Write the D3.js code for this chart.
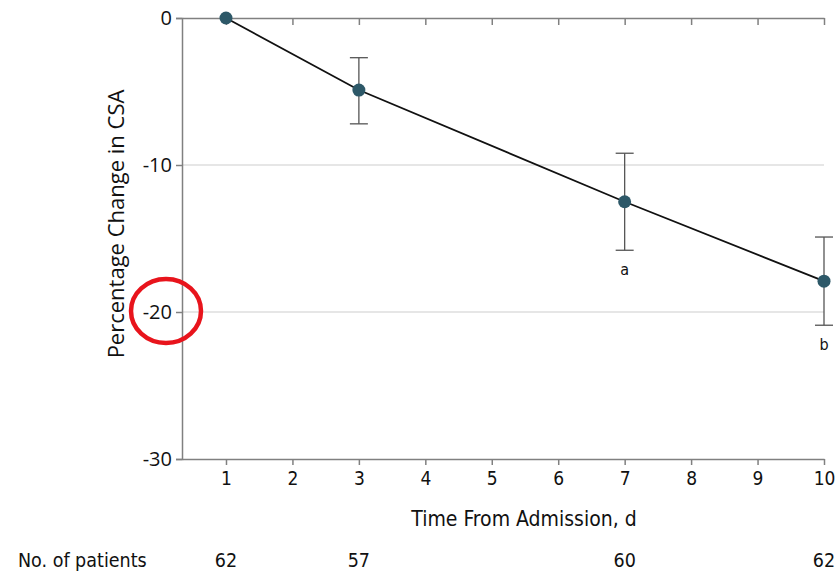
<!DOCTYPE html>
<html>
<head>
<meta charset="utf-8">
<script src="https://cdn.jsdelivr.net/npm/d3@7"></script>
<style>
  body { margin: 0; background: #fff; }
  .narrow { font-family: "Liberation Sans Narrow", "DejaVu Sans Condensed", "Roboto", sans-serif; }
  .open { font-family: "Open Sans", "Noto Sans", sans-serif; }
</style>
</head>
<body>
<svg id="chart" width="839" height="573"></svg>
<script>
// data
var days = [1, 3, 7, 10];
var meanChange = [0, -4.9, -12.5, -17.9];
var upperCI = [0, -2.7, -9.2, -14.9];
var lowerCI = [0, -7.2, -15.8, -20.9];
var sigLabels = ["", "", "a", "b"];
var patients = [62, 57, 60, 62];
var xTicks = [1, 2, 3, 4, 5, 6, 7, 8, 9, 10];
var yTicks = [0, -10, -20, -30];

function drawChart()
{
    var svg = d3.select("#chart");
    var plotLeft = 182, plotRight = 824, plotTop = 18, plotBottom = 459;

    var x = d3.scaleLinear().domain([0.338, 10]).range([plotLeft, plotRight]);
    var y = d3.scaleLinear().domain([-30, 0]).range([plotBottom, plotTop]);

    var axisColor = "#808080";

    // gridlines
    svg.append("g")
       .selectAll("line")
       .data([-10, -20])
       .enter().append("line")
       .attr("x1", plotLeft).attr("x2", plotRight)
       .attr("y1", function(d) { return y(d); })
       .attr("y2", function(d) { return y(d); })
       .attr("stroke", "#dedede")
       .attr("stroke-width", 1.5);

    // left axis
    var gy = svg.append("g")
       .attr("transform", "translate(" + plotLeft + ",0)")
       .call(d3.axisLeft(y).tickValues(yTicks).tickSize(6).tickPadding(4).tickFormat(d3.format("d")));
    gy.select(".domain").attr("stroke", axisColor).attr("stroke-width", 1.5);
    gy.selectAll(".tick line").attr("stroke", axisColor).attr("stroke-width", 1.5);
    gy.selectAll(".tick text")
      .attr("class", "open")
      .attr("font-size", "20px")
      .attr("fill", "#111")
      .text(function(d) { return d === 0 ? "0" : "-" + Math.abs(d); });

    // bottom axis
    var gx = svg.append("g")
       .attr("transform", "translate(0," + plotBottom + ")")
       .call(d3.axisBottom(x).tickValues(xTicks).tickSize(6).tickPadding(7).tickSizeOuter(0));
    gx.select(".domain").attr("stroke", axisColor).attr("stroke-width", 1.5);
    gx.selectAll(".tick line").attr("stroke", axisColor).attr("stroke-width", 1.5);
    gx.selectAll(".tick text")
      .attr("class", "narrow")
      .attr("font-size", "19px")
      .attr("fill", "#111");

    // top axis (ticks inward)
    var gt = svg.append("g")
       .attr("transform", "translate(0," + plotTop + ")")
       .call(d3.axisTop(x).tickValues(xTicks).tickSize(-7).tickSizeOuter(0).tickFormat(""));
    gt.select(".domain").attr("stroke", axisColor).attr("stroke-width", 1.5);
    gt.selectAll(".tick line").attr("stroke", axisColor).attr("stroke-width", 1.5);

    // axis titles
    svg.append("text")
       .attr("class", "open")
       .attr("transform", "translate(124," + 224 + ") rotate(-90)")
       .attr("text-anchor", "middle")
       .attr("font-size", "22px")
       .attr("fill", "#111")
       .text("Percentage Change in CSA");

    svg.append("text")
       .attr("class", "narrow")
       .attr("x", 524)
       .attr("y", 526)
       .attr("text-anchor", "middle")
       .attr("font-size", "21px")
       .attr("fill", "#111")
       .text("Time From Admission, d");

    // patients row
    svg.append("text")
       .attr("class", "narrow")
       .attr("x", 18)
       .attr("y", 567)
       .attr("font-size", "19.5px")
       .attr("fill", "#111")
       .text("No. of patients");

    svg.append("g")
       .selectAll("text")
       .data(patients)
       .enter().append("text")
       .attr("class", "narrow")
       .attr("x", function(d, i) { return x(days[i]); })
       .attr("y", 567)
       .attr("text-anchor", "middle")
       .attr("font-size", "19.5px")
       .attr("fill", "#111")
       .text(function(d) { return d; });

    // error bars (day 1 is the reference, no bar)
    var idx = [1, 2, 3];
    var bars = svg.append("g")
       .selectAll("g")
       .data(idx)
       .enter().append("g");
    bars.append("line")
        .attr("x1", function(i) { return x(days[i]); })
        .attr("x2", function(i) { return x(days[i]); })
        .attr("y1", function(i) { return y(upperCI[i]); })
        .attr("y2", function(i) { return y(lowerCI[i]); })
        .attr("stroke", "#555").attr("stroke-width", 1.3);
    [upperCI, lowerCI].forEach(function(arr) {
        bars.append("line")
            .attr("x1", function(i) { return x(days[i]) - 9; })
            .attr("x2", function(i) { return x(days[i]) + 9; })
            .attr("y1", function(i) { return y(arr[i]); })
            .attr("y2", function(i) { return y(arr[i]); })
            .attr("stroke", "#555").attr("stroke-width", 1.3);
    });

    // mean line
    var line = d3.line()
       .x(function(d, i) { return x(days[i]); })
       .y(function(d) { return y(d); });
    svg.append("path")
       .datum(meanChange)
       .attr("d", line)
       .attr("fill", "none")
       .attr("stroke", "#111")
       .attr("stroke-width", 1.8);

    svg.append("g")
       .selectAll("circle")
       .data(meanChange)
       .enter().append("circle")
       .attr("cx", function(d, i) { return x(days[i]); })
       .attr("cy", function(d) { return y(d); })
       .attr("r", 6.5)
       .attr("fill", "#2d5868");

    // significance letters
    svg.append("g")
       .selectAll("text")
       .data(sigLabels)
       .enter().append("text")
       .attr("class", "narrow")
       .attr("x", function(d, i) { return x(days[i]); })
       .attr("y", function(d, i) { return y(lowerCI[i]) + 25; })
       .attr("text-anchor", "middle")
       .attr("font-size", "16px")
       .attr("fill", "#111")
       .text(function(d) { return d; });

    // red highlight circle around -20
    svg.append("ellipse")
       .attr("cx", 166)
       .attr("cy", y(-20) - 1)
       .attr("rx", 35)
       .attr("ry", 32)
       .attr("fill", "none")
       .attr("stroke", "#e8141c")
       .attr("stroke-width", 4.5);
}

drawChart();
</script>
</body>
</html>
